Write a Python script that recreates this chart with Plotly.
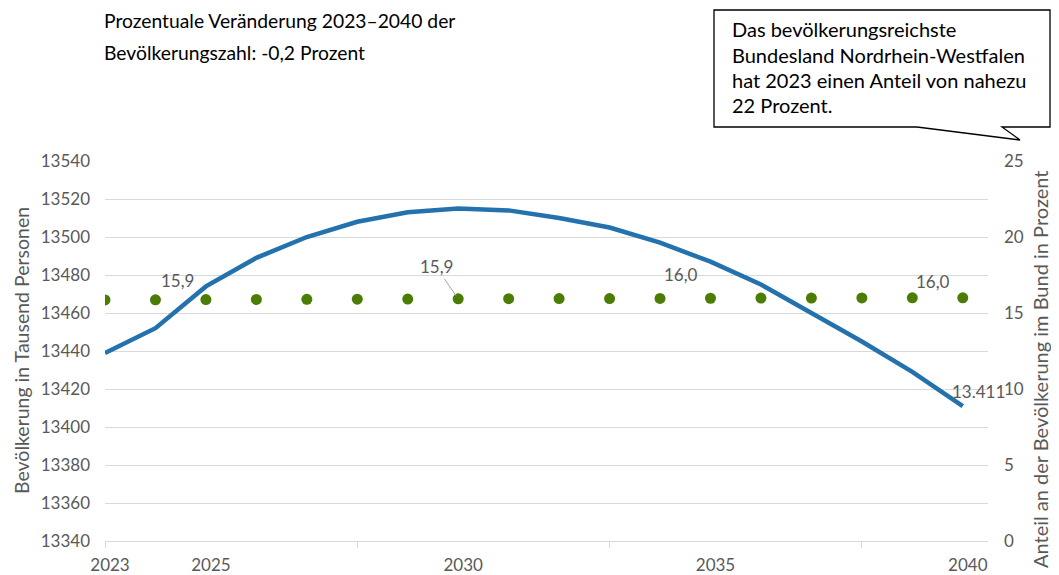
import plotly.graph_objects as go

years = list(range(2023, 2041))
population = [13439, 13452, 13474, 13489, 13500, 13508, 13513, 13515, 13514,
              13510, 13505, 13497, 13487, 13475, 13460, 13445, 13429, 13411]
share = [15.86, 15.87, 15.88, 15.89, 15.90, 15.91, 15.92, 15.93, 15.94,
         15.95, 15.95, 15.96, 15.97, 15.98, 15.98, 15.99, 16.00, 16.00]
x_ticks = [2023, 2025, 2030, 2035, 2040]
left_ticks = list(range(13340, 13541, 20))
right_ticks = [0, 5, 10, 15, 20, 25]

title_lines = ["Prozentuale Veränderung 2023–2040 der", "Bevölkerungszahl: -0,2 Prozent"]
callout_lines = ["Das bevölkerungsreichste", "Bundesland Nordrhein-Westfalen",
                 "hat 2023 einen Anteil von nahezu", "22 Prozent."]

# the page body adds an 8px offset; work in screenshot pixels
OFF = 8
SW, SH = 1059, 575
W, H = SW - OFF, SH - OFF
PL, PR, PT, PB = 105, 988, 161, 541          # plot area in screenshot pixels
L, R, T, B = PL - OFF, SW - PR, PT - OFF, SH - PB
PW, PH = PR - PL, PB - PT


def px(x):
    return (x - PL) / PW


def py(y):
    return (PB - y) / PH


FONT = "Lato"
GRAY = "#595959"
BLUE = "#2372AE"
GREEN = "#4B7D04"
TICK = 17

fig = go.Figure()
fig.add_trace(go.Scatter(x=years, y=population, mode="lines",
                         line=dict(color=BLUE, width=4.5), yaxis="y",
                         hoverinfo="skip", showlegend=False))
fig.add_trace(go.Scatter(x=years, y=share, mode="markers",
                         marker=dict(color=GREEN, size=11), yaxis="y2",
                         hoverinfo="skip", showlegend=False))


def de1(v):
    return f"{v:.1f}".replace(".", ",")


lab_font = dict(family=FONT, size=17, color=GRAY)
# data labels
fig.add_annotation(x=years[1], y=share[1], yref="y2", text=de1(share[1]), showarrow=False,
                   xshift=22, yshift=19, font=lab_font)
fig.add_annotation(x=years[7], y=share[7], yref="y2", text=de1(share[7]), showarrow=True,
                   arrowhead=0, arrowwidth=1, arrowcolor="#a6a6a6", ax=-22, ay=-32, standoff=4,
                   font=lab_font)
fig.add_annotation(x=years[11], y=share[11], yref="y2", text=de1(share[11]), showarrow=False,
                   xshift=21, yshift=24, font=lab_font)
fig.add_annotation(x=years[16], y=share[16], yref="y2", text=de1(share[16]), showarrow=False,
                   xshift=21, yshift=16, font=lab_font)
fig.add_annotation(x=years[-1], y=population[-1], yref="y", text=f"{population[-1]:,}".replace(",", "."),
                   showarrow=False, xshift=16, yshift=15, font=lab_font)

# title
for i, line in enumerate(title_lines):
    fig.add_annotation(xref="paper", yref="paper", x=px(102), y=py(20 + 32 * i), text=line,
                       showarrow=False, xanchor="left", yanchor="middle",
                       font=dict(family=FONT, size=19.3, color="#000000"))

# callout box
pts = [(714, 10), (1050, 10), (1050, 127), (1002, 127), (1020, 140), (917, 127), (714, 127)]
path = "M " + " L ".join(f"{px(a):.5f},{py(b):.5f}" for a, b in pts) + " Z"
fig.add_shape(type="path", xref="paper", yref="paper", path=path,
              line=dict(color="#000000", width=1.3), fillcolor="white", layer="above")
for i, line in enumerate(callout_lines):
    fig.add_annotation(xref="paper", yref="paper", x=px(730), y=py(29 + 25.5 * i), text=line,
                       showarrow=False, xanchor="left", yanchor="middle",
                       font=dict(family=FONT, size=20, color="#000000"))

# axis titles
fig.add_annotation(xref="paper", yref="paper", x=px(21), y=py(351),
                   text="Bevölkerung in Tausend Personen", textangle=-90, showarrow=False,
                   xanchor="center", yanchor="middle", font=dict(family=FONT, size=19.5, color=GRAY))
fig.add_annotation(xref="paper", yref="paper", x=px(1040), y=py(369),
                   text="Anteil an der Bevölkerung im Bund in Prozent", textangle=-90, showarrow=False,
                   xanchor="center", yanchor="middle", font=dict(family=FONT, size=20, color=GRAY))

fig.update_layout(
    width=W, height=H,
    margin=dict(l=L, r=R, t=T, b=B, autoexpand=False),
    paper_bgcolor="white", plot_bgcolor="white",
    font=dict(family=FONT, size=TICK, color=GRAY),
    xaxis=dict(range=[2023, 2040.5], tickmode="array", tickvals=x_ticks,
               ticktext=[str(v) for v in x_ticks], ticks="", showgrid=False, automargin=False,
               showline=True, linecolor="#d9d9d9", linewidth=1.3, zeroline=False,
               ticklabelstandoff=8, ticklabelshift=5,
               minor=dict(tickmode="array", tickvals=[2023, 2028, 2033, 2038], ticks="outside",
                          ticklen=6, tickcolor="#d9d9d9", tickwidth=1.3, showgrid=False),
               tickfont=dict(family=FONT, size=TICK, color=GRAY)),
    yaxis=dict(range=[13340, 13540], tickmode="array", tickvals=left_ticks, tickformat="d",
               showgrid=True, gridcolor="#d9d9d9", gridwidth=1.3, zeroline=False, automargin=False,
               ticks="", ticklabelstandoff=14, tickfont=dict(family=FONT, size=TICK, color=GRAY)),
    yaxis2=dict(range=[0, 25], tickmode="array", tickvals=right_ticks, overlaying="y", side="right",
                showgrid=False, zeroline=False, ticks="", ticklabelstandoff=15, automargin=False,
                tickfont=dict(family=FONT, size=TICK, color=GRAY)),
)

fig.write_html("out.html")
